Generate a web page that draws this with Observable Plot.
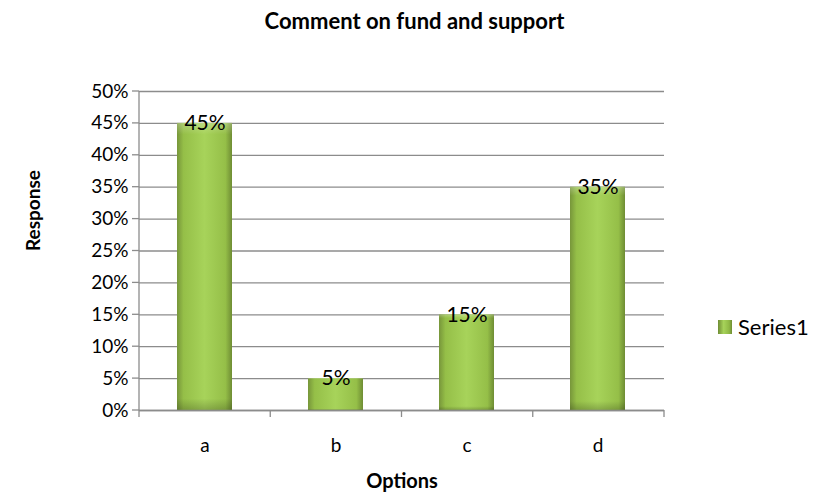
<!DOCTYPE html>
<html><head><meta charset="utf-8">
<script src="https://cdn.jsdelivr.net/npm/d3@7"></script>
<script src="https://cdn.jsdelivr.net/npm/@observablehq/plot@0.6"></script>
<style>
body{margin:0;background:#fff;font-family:Lato,"Open Sans",sans-serif;}
#wrap{position:relative;width:829px;height:499px;overflow:hidden;}
#title{position:absolute;left:0;width:829px;top:8px;text-align:center;font-weight:bold;font-size:22px;line-height:26px;color:#000;}
#legend{position:absolute;left:718px;top:314px;font-size:22px;line-height:26px;color:#000;display:flex;align-items:center;white-space:nowrap;}
#legend span.sw{display:inline-block;width:14px;height:14px;margin-right:6px;background:linear-gradient(90deg,#6f8d34,#a7d35a 40%,#8fb845 80%,#6f8d34);}
</style></head>
<body><div id="wrap"><div id="title">Comment on fund and support</div><div id="legend"><span class="sw"></span><span id="legtext"></span></div></div>
<script>
const categories = ["a","b","c","d"];
const values = [0.45,0.05,0.15,0.35];
const labels = ["45%","5%","15%","35%"];
const yTicks = [0,0.05,0.1,0.15,0.2,0.25,0.3,0.35,0.4,0.45,0.5];
const seriesName = "Series1";
const xTitle = "Options";
const yTitle = "Response";
const data = categories.map((c,i)=>({cat:c,val:values[i],lab:labels[i]}));
document.getElementById("legtext").textContent = seriesName;

const defs = () => {
  const s = d3.create("svg:defs");
  const g = s.append("linearGradient").attr("id","barGrad").attr("x1","0").attr("x2","1").attr("y1","0").attr("y2","0");
  [["0%","#77963a"],["12%","#95bf48"],["50%","#a7d35a"],["88%","#95bf48"],["100%","#6f8d34"]].forEach(([o,c])=>g.append("stop").attr("offset",o).attr("stop-color",c));
  const g2 = s.append("linearGradient").attr("id","barShade").attr("x1","0").attr("x2","0").attr("y1","0").attr("y2","1");
  [["0%","#ffffff",0.25],["4%","#ffffff",0],["96%","#000000",0],["100%","#000000",0.2]].forEach(([o,c,a])=>g2.append("stop").attr("offset",o).attr("stop-color",c).attr("stop-opacity",a));
  return s.node();
};

const L=139,R=664,T=91,B=410;
const chart = Plot.plot({
  width: 829, height: 499,
  marginTop: T, marginLeft: L, marginRight: 829-R, marginBottom: 499-B,
  style: {fontFamily: "Lato, 'Open Sans', sans-serif", fontSize: "19px", color: "#000", background: "transparent"},
  x: {domain: categories, paddingInner: 0.58, paddingOuter: 0.29, label: null, tickSize: 0, tickPadding: 28},
  y: {domain: [0,0.5], ticks: yTicks, tickFormat: d => Math.round(d*100)+"%", label: null, tickSize: 0, tickPadding: 11},
  marks: [
    defs,
    Plot.gridY(yTicks, {stroke: "#8c8c8c", strokeOpacity: 1, strokeWidth: 1.3}),
    Plot.barY(data, {x: "cat", y: "val", fill: "url(#barGrad)"}),
    Plot.barY(data, {x: "cat", y: "val", fill: "url(#barShade)"}),
    Plot.ruleY([0], {stroke:"#8c8c8c", strokeWidth:1.3}),
    Plot.text(data, {x: "cat", y: "val", text: "lab", fontSize: 21, lineAnchor: "middle", fill: "#000"}),
    Plot.text([xTitle], {frameAnchor: "bottom", dy: 77, fontWeight: "bold", fontSize: 20, fill: "#000"}),
    Plot.text([yTitle], {frameAnchor: "left", dx: -106, rotate: -90, fontWeight: "bold", fontSize: 19, fill: "#000"})
  ]
});
document.getElementById("wrap").prepend(chart);
chart.style.position="absolute";chart.style.left="0";chart.style.top="0";
const svgns="http://www.w3.org/2000/svg";
const gT=document.createElementNS(svgns,"g");
gT.setAttribute("stroke","#8c8c8c");gT.setAttribute("stroke-width","1.3");
for(let i=0;i<=categories.length;i++){const x=L+(R-L)*i/categories.length;const l=document.createElementNS(svgns,"line");l.setAttribute("x1",x);l.setAttribute("x2",x);l.setAttribute("y1",B);l.setAttribute("y2",B+7);gT.appendChild(l);}
for(let i=0;i<yTicks.length;i++){const y=B-(B-T)*i/(yTicks.length-1);const l=document.createElementNS(svgns,"line");l.setAttribute("x1",L-7);l.setAttribute("x2",L);l.setAttribute("y1",y);l.setAttribute("y2",y);gT.appendChild(l);}
const ax=document.createElementNS(svgns,"line");ax.setAttribute("x1",L);ax.setAttribute("x2",L);ax.setAttribute("y1",T);ax.setAttribute("y2",B);gT.appendChild(ax);
chart.appendChild(gT);
</script></body></html>
